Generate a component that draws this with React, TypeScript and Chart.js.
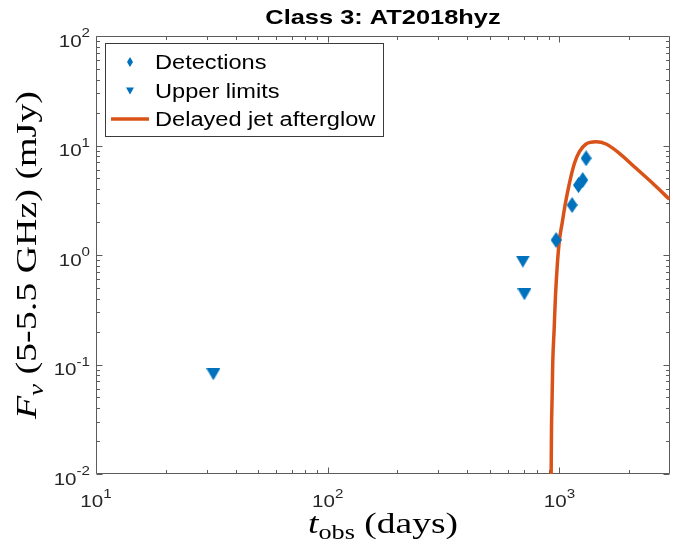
import React, { useEffect, useRef } from 'react';
import { Chart, registerables } from 'chart.js';

Chart.register(...registerables);

// ---- data ----
const DET_T = [967, 1134, 1208, 1260, 1303];
const DET_F = [1.37, 2.86, 4.35, 4.84, 7.64];
const UL_T = [32.1, 695, 706];
const UL_F = [0.0813, 0.869, 0.437];
const MODEL_T = [918, 921, 924, 930, 935.5, 948.5, 961, 980, 1000, 1027, 1061, 1104, 1161, 1220, 1303, 1439, 1590, 1814, 2141, 2525, 2980];
const MODEL_F = [0.005, 0.0101, 0.0252, 0.0508, 0.1026, 0.2066, 0.416, 0.839, 1.37, 1.948, 2.965, 4.52, 6.88, 8.78, 10.32, 10.83, 10.32, 8.49, 6.19, 4.52, 3.23];

const X_TICKS = [10, 100, 1000];
const X_TICK_EXP = ['1', '2', '3'];
const Y_TICKS = [0.01, 0.1, 1, 10, 100];
const Y_TICK_EXP = ['-2', '-1', '0', '1', '2'];

const LABELS = ['Detections', 'Upper limits', 'Delayed jet afterglow'];
const TITLE = 'Class 3: AT2018hyz';

const BLUE = '#0072BD';
const ORANGE = '#D95319';
const AXIS = '#5c5c5c';
const SANS = '"Liberation Sans", Arial, sans-serif';
const SERIF = '"Liberation Serif", "Times New Roman", serif';
const STRETCH = 1.21;

type Seg = { text: string; font: string; dy?: number };

function segsWidth(ctx: CanvasRenderingContext2D, segs: Seg[]) {
  let w = 0;
  for (const s of segs) {
    ctx.font = s.font;
    w += ctx.measureText(s.text).width;
  }
  return w;
}

function drawSegs(
  ctx: CanvasRenderingContext2D,
  segs: Seg[],
  x: number,
  y: number,
  align: 'left' | 'center' | 'right',
  stretch: number,
  rotate = 0,
  color = '#000'
) {
  const w = segsWidth(ctx, segs);
  ctx.save();
  ctx.translate(x, y);
  if (rotate) ctx.rotate(rotate);
  ctx.scale(stretch, 1);
  ctx.fillStyle = color;
  ctx.textAlign = 'left';
  ctx.textBaseline = 'alphabetic';
  let cx = align === 'center' ? -w / 2 : align === 'right' ? -w : 0;
  for (const s of segs) {
    ctx.font = s.font;
    ctx.fillText(s.text, cx, s.dy || 0);
    cx += ctx.measureText(s.text).width;
  }
  ctx.restore();
}

function makeDiamond(w: number, h: number, color: string) {
  const c = document.createElement('canvas');
  c.width = w;
  c.height = h;
  const g = c.getContext('2d')!;
  g.fillStyle = color;
  g.beginPath();
  g.moveTo(w / 2, 0);
  g.lineTo(w, h / 2);
  g.lineTo(w / 2, h);
  g.lineTo(0, h / 2);
  g.closePath();
  g.fill();
  return c;
}

function makeTriDown(w: number, h: number, color: string) {
  const c = document.createElement('canvas');
  c.width = w;
  c.height = h;
  const g = c.getContext('2d')!;
  g.fillStyle = color;
  g.beginPath();
  g.moveTo(0, 0);
  g.lineTo(w, 0);
  g.lineTo(w / 2, h);
  g.closePath();
  g.fill();
  return c;
}

function minorTicks(min: number, max: number) {
  const out: number[] = [];
  for (let e = Math.floor(Math.log10(min)); e <= Math.ceil(Math.log10(max)); e++) {
    const d = Math.pow(10, e);
    for (let m = 2; m <= 9; m++) {
      const v = m * d;
      if (v > min && v < max) out.push(v);
    }
  }
  return out;
}

const axesPlugin = {
  id: 'matlabAxes',
  beforeDatasetsDraw(chart: any) {
    const ctx: CanvasRenderingContext2D = chart.ctx;
    const { left, right, top, bottom } = chart.chartArea;
    const xs = chart.scales.x;
    const ys = chart.scales.y;
    ctx.save();
    ctx.strokeStyle = AXIS;
    ctx.lineWidth = 1;
    const L = Math.round(left) + 0.5;
    const R = Math.round(right) - 0.5;
    const T = Math.round(top) + 0.5;
    const B = Math.round(bottom) - 0.5;
    ctx.beginPath();
    ctx.rect(L, T, R - L, B - T);
    ctx.stroke();
    const major = 6;
    const minor = 3.5;
    ctx.beginPath();
    for (const v of X_TICKS) {
      const px = Math.round(xs.getPixelForValue(v)) + 0.5;
      ctx.moveTo(px, B); ctx.lineTo(px, B - major);
      ctx.moveTo(px, T); ctx.lineTo(px, T + major);
    }
    for (const v of minorTicks(xs.min, xs.max)) {
      const px = Math.round(xs.getPixelForValue(v)) + 0.5;
      ctx.moveTo(px, B); ctx.lineTo(px, B - minor);
      ctx.moveTo(px, T); ctx.lineTo(px, T + minor);
    }
    for (const v of Y_TICKS) {
      const py = Math.round(ys.getPixelForValue(v)) + 0.5;
      ctx.moveTo(L, py); ctx.lineTo(L + major, py);
      ctx.moveTo(R, py); ctx.lineTo(R - major, py);
    }
    for (const v of minorTicks(ys.min, ys.max)) {
      const py = Math.round(ys.getPixelForValue(v)) + 0.5;
      ctx.moveTo(L, py); ctx.lineTo(L + minor, py);
      ctx.moveTo(R, py); ctx.lineTo(R - minor, py);
    }
    ctx.stroke();
    ctx.restore();

    // tick labels
    const main = `17px ${SANS}`;
    const sup = `12.5px ${SANS}`;
    X_TICKS.forEach((v, i) => {
      const px = xs.getPixelForValue(v);
      drawSegs(ctx, [{ text: '10', font: main }, { text: X_TICK_EXP[i], font: sup, dy: -9.5 }], px, bottom + 33, 'center', STRETCH, 0, '#262626');
    });
    Y_TICKS.forEach((v, i) => {
      const py = ys.getPixelForValue(v);
      drawSegs(ctx, [{ text: '10', font: main }, { text: Y_TICK_EXP[i], font: sup, dy: -9.5 }], left - 6, py + 10.5, 'right', STRETCH, 0, '#262626');
    });

    // axis titles
    const xSegs: Seg[] = [
      { text: 't', font: `italic 30px ${SERIF}` },
      { text: 'obs', font: `21px ${SERIF}`, dy: 6 },
      { text: ' (days)', font: `30px ${SERIF}` },
    ];
    const xw = segsWidth(ctx, xSegs);
    drawSegs(ctx, xSegs, (left + right) / 2, 533, 'center', 150 / xw);

    const ySegs: Seg[] = [
      { text: 'F', font: `italic 30px ${SERIF}` },
      { text: 'ν', font: `italic 21px ${SERIF}`, dy: 7 },
      { text: ' (5-5.5 GHz) (mJy)', font: `30px ${SERIF}` },
    ];
    const yw = segsWidth(ctx, ySegs);
    drawSegs(ctx, ySegs, 36, (top + bottom) / 2, 'center', 328 / yw, -Math.PI / 2);
  },
  afterDraw(chart: any) {
    const ctx: CanvasRenderingContext2D = chart.ctx;
    const { left, right } = chart.chartArea;
    // title
    drawSegs(ctx, [{ text: TITLE, font: `bold 21px ${SANS}` }], (left + right) / 2, 23.5, 'center', STRETCH);

    // legend box
    const bx = left + 9, by = 43, bw = 278, bh = 93;
    ctx.save();
    ctx.fillStyle = '#fff';
    ctx.fillRect(bx, by, bw, bh);
    ctx.strokeStyle = '#3a3a3a';
    ctx.lineWidth = 1;
    ctx.strokeRect(Math.round(bx) + 0.5, by + 0.5, bw, bh);
    ctx.restore();

    const ds = chart.data.datasets;
    const mx = bx + 25;
    const rows = [62, 91, 119];
    // diamond
    ctx.save();
    ctx.fillStyle = ds[0].backgroundColor;
    ctx.beginPath();
    ctx.moveTo(mx, rows[0] - 5);
    ctx.lineTo(mx + 3, rows[0]);
    ctx.lineTo(mx, rows[0] + 5);
    ctx.lineTo(mx - 3, rows[0]);
    ctx.closePath();
    ctx.fill();
    // triangle
    ctx.fillStyle = ds[1].backgroundColor;
    ctx.beginPath();
    ctx.moveTo(mx - 4, rows[1] - 3.5);
    ctx.lineTo(mx + 4, rows[1] - 3.5);
    ctx.lineTo(mx, rows[1] + 3.5);
    ctx.closePath();
    ctx.fill();
    // line
    ctx.strokeStyle = ds[2].borderColor;
    ctx.lineWidth = 3.5;
    ctx.beginPath();
    ctx.moveTo(bx + 6, rows[2]);
    ctx.lineTo(bx + 44, rows[2]);
    ctx.stroke();
    ctx.restore();

    ds.forEach((d: any, i: number) => {
      drawSegs(ctx, [{ text: d.label, font: `19.5px ${SANS}` }], bx + 50, rows[i] + 7, 'left', STRETCH);
    });
  },
};

export default function App() {
  const ref = useRef<HTMLCanvasElement>(null);
  useEffect(() => {
    if (!ref.current) return;
    const diamond = makeDiamond(11, 16, BLUE);
    const tri = makeTriDown(14, 12, BLUE);
    const chart = new Chart(ref.current, {
      type: 'scatter',
      data: {
        datasets: [
          {
            label: LABELS[0],
            data: DET_T.map((t, i) => ({ x: t, y: DET_F[i] })),
            backgroundColor: BLUE,
            borderColor: BLUE,
            pointStyle: diamond as any,
            pointRadius: 7,
            showLine: false,
          },
          {
            label: LABELS[1],
            data: UL_T.map((t, i) => ({ x: t, y: UL_F[i] })),
            backgroundColor: BLUE,
            borderColor: BLUE,
            pointStyle: tri as any,
            pointRadius: 7,
            showLine: false,
          },
          {
            type: 'line',
            label: LABELS[2],
            data: MODEL_T.map((t, i) => ({ x: t, y: MODEL_F[i] })),
            borderColor: ORANGE,
            backgroundColor: ORANGE,
            borderWidth: 3.5,
            pointRadius: 0,
            showLine: true,
            fill: false,
            cubicInterpolationMode: 'monotone',
          } as any,
        ],
      },
      options: {
        responsive: false,
        animation: false,
        devicePixelRatio: 1,
        layout: { padding: { top: 36, right: 12, bottom: 0, left: 0 } },
        plugins: {
          legend: { display: false },
          title: { display: false },
          tooltip: { enabled: false },
        },
        scales: {
          x: {
            type: 'logarithmic',
            min: 10,
            max: 3000,
            grid: { display: false },
            border: { display: false },
            ticks: { display: false },
            afterFit: (s: any) => { s.height = 72; },
          },
          y: {
            type: 'logarithmic',
            min: 0.01,
            max: 100,
            grid: { display: false },
            border: { display: false },
            ticks: { display: false },
            afterFit: (s: any) => { s.width = 96; },
          },
        },
      },
      plugins: [axesPlugin],
    });
    return () => chart.destroy();
  }, []);
  return (
    <div style={{ position: 'fixed', left: 0, top: 0, width: 682, height: 546, background: '#fff' }}>
      <canvas ref={ref} width={682} height={546} style={{ display: 'block' }} />
    </div>
  );
}
